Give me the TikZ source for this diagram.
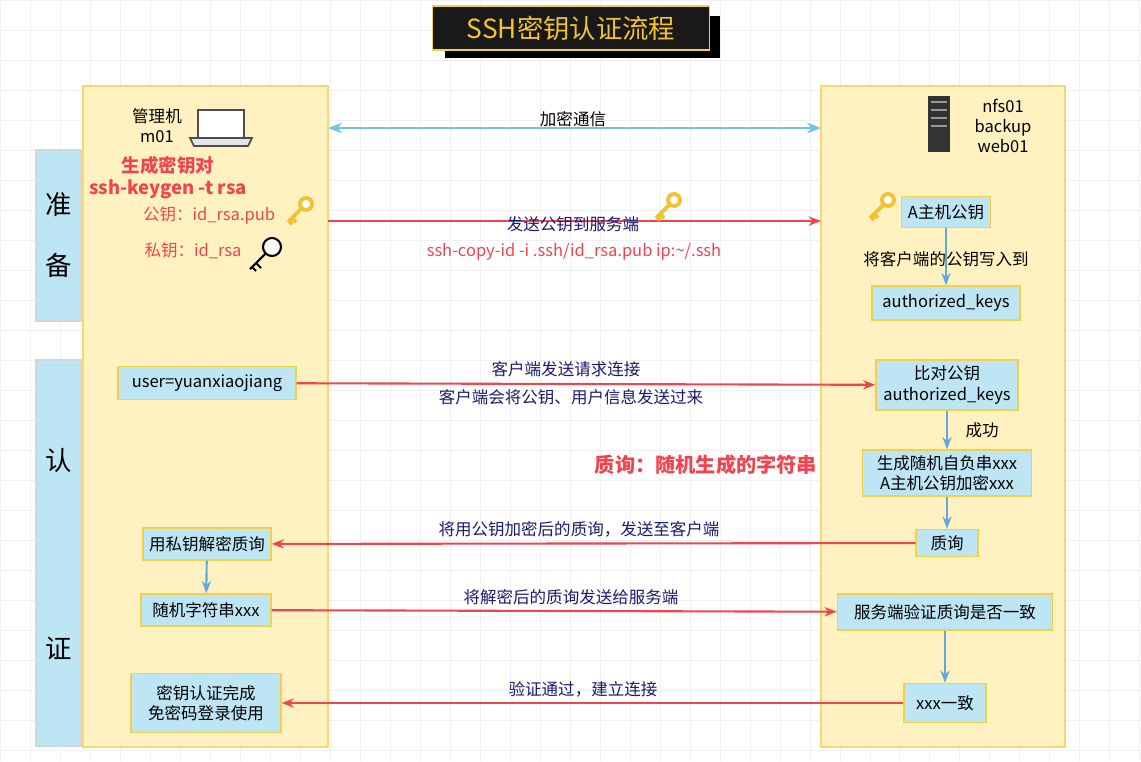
\documentclass[tikz,border=0pt]{standalone}
\usepackage{fontspec}
\setmainfont{Noto Sans CJK SC}
\usetikzlibrary{arrows.meta}
\definecolor{panel}{HTML}{FFF2C0}
\definecolor{panelb}{HTML}{F7D774}
\definecolor{side}{HTML}{BDE5F4}
\definecolor{boxb}{HTML}{F2D04A}
\definecolor{navy}{HTML}{1A1A6E}
\definecolor{redl}{HTML}{F0454F}
\definecolor{bluel}{HTML}{5FA8E0}
\definecolor{gold}{HTML}{F2C230}
\definecolor{cyanl}{HTML}{70C4E2}
\tikzset{
 txt/.style={font=\fontsize{9.4}{11.5}\selectfont, align=center, inner sep=1pt},
 bx/.style={txt, draw=boxb, fill=side, line width=0.8pt, inner sep=0pt},
 ra/.style={draw=redl, line width=1.2pt, -{Stealth[length=7pt]}},
 ba/.style={draw=bluel, line width=1.2pt, -{Stealth[length=7pt]}},
 lab/.style={txt, text=navy},
 keyg/.style={draw=gold, line width=2.2pt},
}
\newcommand{\goldkey}[1]{%
 \begin{scope}[shift={#1}]
 \draw[keyg, fill=white] (6,-6) circle (6);
 \draw[keyg] (2,-2) -- (-12,12) (-8,8) -- (-4,12) (-11,11) -- (-8,14);
 \end{scope}}
\begin{document}
\begin{tikzpicture}[x=0.02cm,y=-0.02cm]
\useasboundingbox (0,0) rectangle (1141,761);
\draw[black!6, step=0.6cm] (0,0) grid (1141,761);
% title
\fill[black] (445,16) rectangle (720,58);
\node[draw=boxb, fill=black!90, line width=1pt, minimum width=277*0.02cm, minimum height=44*0.02cm, text=gold, font=\fontsize{15}{18}\selectfont] (title) at (571,28) {SSH密钥认证流程};
% panels
\draw[panelb, fill=panel, line width=0.8pt] (83,86) rectangle (328,747);
\draw[panelb, fill=panel, line width=0.8pt] (821,86) rectangle (1065,747);
\draw[side!70!black!40, fill=side, line width=0.6pt] (36,150) rectangle (81,321);
\draw[side!70!black!40, fill=side, line width=0.6pt] (36,360) rectangle (81,746);
\foreach \c/\y in {准/205,备/265,认/460,证/648}
 \node[font=\fontsize{15}{18}\selectfont] at (59,\y) {\c};
% left top
\node[txt] (m01) at (157,126) {管理机\\m01};
\draw[black!70, line width=1pt, fill=white] (198,110) rectangle (244,138);
\draw[black!70, line width=1pt, fill=black!10] (190,138) -- (252,138) -- (248,146) -- (194,146) -- cycle;
\node[txt, text=redl, font=\fontsize{10.5}{12.5}\selectfont\bfseries] (gen) at (168,178) {生成密钥对\\ssh-keygen -t rsa};
\node[txt, text=redl] (pub) at (209,215) {公钥：id\_rsa.pub};
\node[txt, text=redl] (priv) at (193,251) {私钥：id\_rsa};
\goldkey{(300,210)}
\begin{scope}[shift={(266,253)}]
 \draw[black, line width=1.2pt, fill=white] (6,-6) circle (9);
 \draw[black, line width=1.2pt] (0,0) -- (-16,16) (-10,10) -- (-5,15) (-14,14) -- (-10,18);
\end{scope}
% right top
\fill[black!80] (928,96) rectangle (950,152);
\foreach \yy in {102,110,118,126} \draw[black!40, line width=1pt] (931,\yy) -- (947,\yy);
\node[txt] (srv) at (1003,126) {nfs01\\backup\\web01};
\coordinate (L1) at (328,128); \coordinate (R1) at (821,128);
\draw[cyanl, line width=1.6pt, {Stealth[length=8pt]}-{Stealth[length=8pt]}] (L1) -- (R1);
\node[txt] at (573,119) {加密通信};
\coordinate (L2) at (328,221); \coordinate (R2) at (821,221);
\draw[ra] (L2) -- (R2);
\node[lab] at (573,224) {发送公钥到服务端};
\goldkey{(668,206)}
\node[txt, text=redl] at (574,252) {ssh-copy-id -i .ssh/id\_rsa.pub ip:\textasciitilde/.ssh};
\goldkey{(882,206)}
\node[bx, minimum width=89*0.02cm, minimum height=31*0.02cm] (akey) at (946,212) {A主机公钥};
\node[txt] at (946,259) {将客户端的公钥写入到};
\node[bx, minimum width=148*0.02cm, minimum height=34*0.02cm] (auth) at (946,303) {authorized\_keys};
\draw[ba] (akey) -- (auth);
% auth section
\node[bx, minimum width=178*0.02cm, minimum height=33*0.02cm] (user) at (207,383) {user=yuanxiaojiang};
\node[bx, minimum width=142*0.02cm, minimum height=50*0.02cm] (cmp) at (947,385) {比对公钥\\authorized\_keys};
\draw[ra] (user) -- (cmp);
\node[lab] at (566,369) {客户端发送请求连接};
\node[lab] at (571,397) {客户端会将公钥、用户信息发送过来};
\node[bx, minimum width=169*0.02cm, minimum height=46*0.02cm] (gen2) at (947,473) {生成随机自负串xxx\\A主机公钥加密xxx};
\draw[ba] (cmp) -- (gen2);
\node[txt] at (982,430) {成功};
\node[txt, text=redl, font=\fontsize{11.5}{13}\selectfont\bfseries] at (706,465) {质询：随机生成的字符串};
\node[bx, minimum width=62*0.02cm, minimum height=27*0.02cm] (chal) at (947,543) {质询};
\draw[ba] (gen2) -- (chal);
\node[bx, minimum width=128*0.02cm, minimum height=32*0.02cm] (dec) at (207,544) {用私钥解密质询};
\draw[ra] (chal) -- (dec);
\node[lab] at (579,529) {将用公钥加密后的质询，发送至客户端};
\node[bx, minimum width=130*0.02cm, minimum height=32*0.02cm] (rnd) at (206,610) {随机字符串xxx};
\draw[ba] (dec) -- (rnd);
\node[bx, minimum width=215*0.02cm, minimum height=36*0.02cm] (ver) at (945,612) {服务端验证质询是否一致};
\draw[ra] (rnd) -- (ver);
\node[lab] at (571,597) {将解密后的质询发送给服务端};
\node[bx, minimum width=82*0.02cm, minimum height=39*0.02cm] (ok) at (945,703) {xxx一致};
\draw[ba] (ver) -- (ok);
\node[bx, minimum width=150*0.02cm, minimum height=59*0.02cm] (done) at (206,703) {密钥认证完成\\免密码登录使用};
\draw[ra] (ok) -- (done);
\node[lab] at (583,689) {验证通过，建立连接};
\end{tikzpicture}
\end{document}
